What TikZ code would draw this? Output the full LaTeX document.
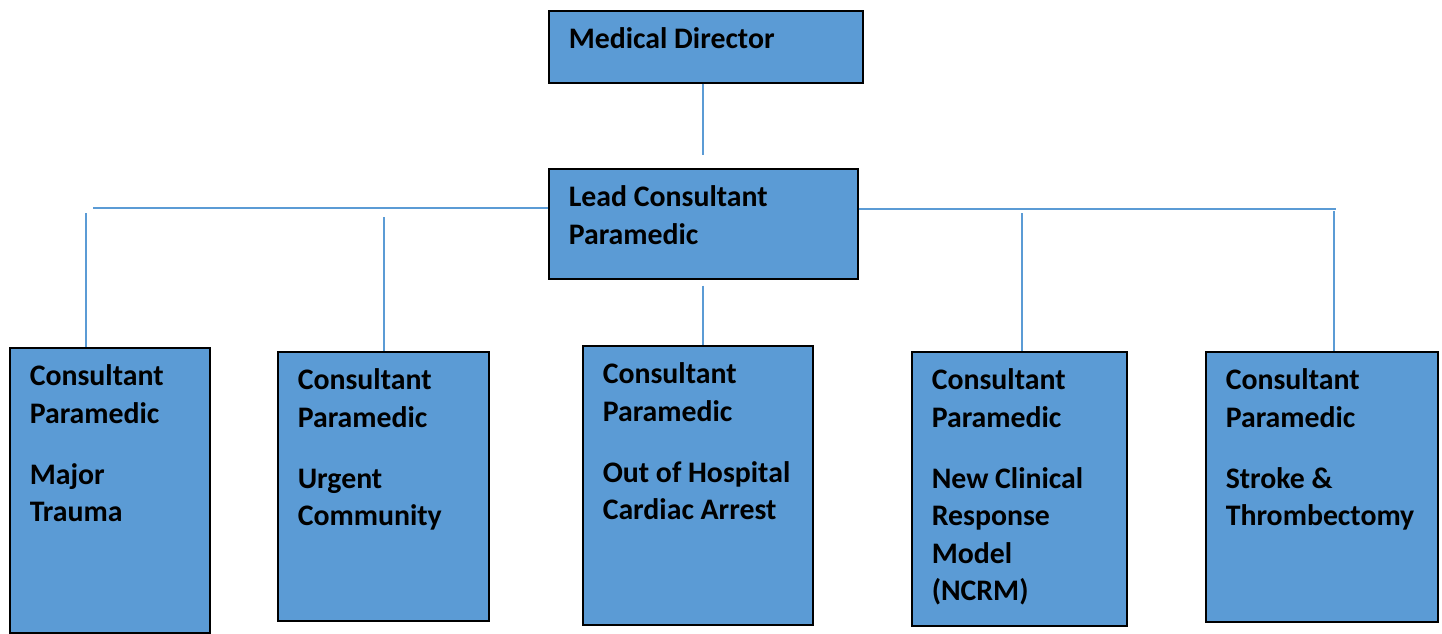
\documentclass[tikz,border=0pt]{standalone}
\usepackage{fontspec}
\setmainfont{Carlito}
\definecolor{boxblue}{HTML}{5B9BD5}

\begin{document}
\begin{tikzpicture}
[x=1pt,y=-1pt,
  boxDecorate/.style={shape=rectangle,anchor=north west,draw=black,line width=1.5pt,
    fill=boxblue,inner xsep=20pt,inner ysep=0pt,
    font=\bfseries\fontsize{29.8}{37.5}\selectfont},%
  lineDecorate/.style={-,draw=boxblue,line width=1.5pt}]
\useasboundingbox (0,0) rectangle (1442,633);
%% boxes
\foreach \nodename/\x/\y/\w/\h/\txt in {
  director/548/10/314/72/{Medical~Director},
  lead/548/168/309/110/{Lead~Consultant\\Paramedic},
  trauma/9/347/200/285/{Consultant\\Paramedic\\[23.5pt]Major\\Trauma},
  urgent/277/351/211/269/{Consultant\\Paramedic\\[23.5pt]Urgent\\Community},
  ohca/582/345/230/279/{Consultant\\Paramedic\\[23.5pt]Out~of~Hospital\\Cardiac~Arrest},
  ncrm/911/351/215/274/{Consultant\\Paramedic\\[23.5pt]New~Clinical\\Response\\Model\\(NCRM)},
  stroke/1205/351/232/270/{Consultant\\Paramedic\\[23.5pt]Stroke~\&\\Thrombectomy}}
{
  \node (\nodename) at (\x,\y) [boxDecorate]
    {\parbox[t][\h pt][t]{\dimexpr\w pt-40pt\relax}{\raggedright\rule{0pt}{38pt}\txt}};
}
%% lines
\coordinate (midline) at (703,0);
\draw[lineDecorate,shorten >=13pt] (midline |- director.south) -- (midline |- lead.north);
\draw[lineDecorate,shorten <=6pt] (midline |- lead.south) -- (midline |- ohca.north);
\coordinate (busL) at (93,208);
\coordinate (busR) at (1336,209);
\draw[lineDecorate] (lead.west |- busL) -- (busL);
\draw[lineDecorate] (lead.east |- busR) -- (busR);
\foreach \nodename/\x/\y in {trauma/86/213, urgent/384/217, ncrm/1022/213, stroke/1334/211}
{
  \coordinate (top\nodename) at (\x,\y);
  \draw[lineDecorate] (top\nodename) -- (top\nodename |- \nodename.north);
}
\end{tikzpicture}
\end{document}
